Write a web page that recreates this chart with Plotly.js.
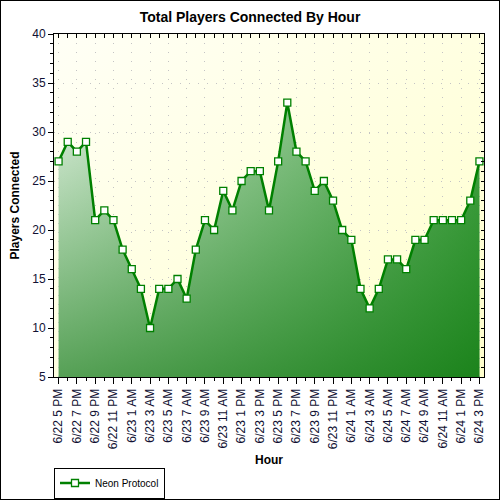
<!DOCTYPE html>
<html>
<head>
<meta charset="utf-8">
<script src="https://cdn.plot.ly/plotly-3.0.1.min.js"></script>
<style>
  html, body { margin: 0; padding: 0; background: #fff; }
  #wrap { position: relative; width: 500px; height: 500px; }
  #chart { width: 500px; height: 500px; }
  #frame { position: absolute; left: 0; top: 0; width: 498px; height: 498px; border: 1px solid #000; pointer-events: none; }
</style>
</head>
<body>
<div id="wrap"><div id="chart"></div><div id="frame"></div></div>
<script>
const hourLabels = ["6/22 5 PM","6/22 6 PM","6/22 7 PM","6/22 8 PM","6/22 9 PM","6/22 10 PM","6/22 11 PM",
  "6/23 12 AM","6/23 1 AM","6/23 2 AM","6/23 3 AM","6/23 4 AM","6/23 5 AM","6/23 6 AM","6/23 7 AM",
  "6/23 8 AM","6/23 9 AM","6/23 10 AM","6/23 11 AM","6/23 12 PM","6/23 1 PM","6/23 2 PM","6/23 3 PM",
  "6/23 4 PM","6/23 5 PM","6/23 6 PM","6/23 7 PM","6/23 8 PM","6/23 9 PM","6/23 10 PM","6/23 11 PM",
  "6/24 12 AM","6/24 1 AM","6/24 2 AM","6/24 3 AM","6/24 4 AM","6/24 5 AM","6/24 6 AM","6/24 7 AM",
  "6/24 8 AM","6/24 9 AM","6/24 10 AM","6/24 11 AM","6/24 12 PM","6/24 1 PM","6/24 2 PM","6/24 3 PM"];
const players = [27,29,28,29,21,22,21,
  18,16,14,10,14,14,15,13,
  18,21,20,24,22,25,26,26,
  22,27,33,28,27,24,25,23,
  20,19,14,12,14,17,17,16,
  19,19,21,21,21,21,23,27];
const seriesName = "Neon Protocol";
const chartTitle = "Total Players Connected By Hour";
const xTitle = "Hour";
const yTitle = "Players Connected";

const idx = hourLabels.map((_, i) => i);
const tickVals = idx.filter(i => i % 2 === 0);
const tickText = tickVals.map(i => hourLabels[i]);

const FONT = "Liberation Sans, Arial, sans-serif";
const GREEN = "#008000";

const bgSvg = '<svg xmlns="http://www.w3.org/2000/svg" width="100" height="100" preserveAspectRatio="none">' +
  '<defs><linearGradient id="g" x1="0" y1="0" x2="1" y2="1">' +
  '<stop offset="0" stop-color="#fffff6"/><stop offset="1" stop-color="#ffffcc"/>' +
  '</linearGradient></defs><rect width="100" height="100" fill="url(#g)"/></svg>';
const bgSrc = "data:image/svg+xml;charset=utf-8," + encodeURIComponent(bgSvg);

const traces = [
  {
    x: idx, y: players, type: "scatter", mode: "none", fill: "tozeroy",
    fillgradient: { type: "horizontal", start: -0.5, stop: 46.5,
      colorscale: [[0, "rgb(255,255,255)"], [1, "rgb(80,167,80)"]] },
    showlegend: false, hoverinfo: "skip"
  },
  {
    x: idx, y: players, type: "scatter", mode: "none", fill: "tozeroy",
    fillgradient: { type: "vertical", start: 5, stop: 40,
      colorscale: [[0, "rgba(0,112,0,0.66)"], [1, "rgba(0,128,0,0)"]] },
    showlegend: false, hoverinfo: "skip"
  },
  {
    x: idx, y: players, type: "scatter", mode: "lines+markers", name: seriesName,
    line: { color: GREEN, width: 2.5 },
    marker: { symbol: "square", size: 7, color: "#ffffff", line: { color: GREEN, width: 1.3 } },
    cliponaxis: false
  },
  { x: [], y: [], xaxis: "x2", yaxis: "y2", type: "scatter", showlegend: false, hoverinfo: "skip" }
];

const layout = {
  width: 500, height: 500,
  margin: { l: 54, r: 16, t: 34, b: 123 },
  paper_bgcolor: "#ffffff",
  plot_bgcolor: "rgba(0,0,0,0)",
  showlegend: true,
  font: { family: FONT, size: 12, color: "#000" },
  title: { text: chartTitle, font: { family: FONT, size: 14, weight: "bold", color: "#000" },
    x: 0.5, xref: "container", y: 0.966, yref: "container", yanchor: "middle" },
  images: [{ source: bgSrc, xref: "paper", yref: "paper", x: 0, y: 1, sizex: 1, sizey: 1,
    sizing: "stretch", layer: "below", xanchor: "left", yanchor: "top" }],
  xaxis: {
    range: [-0.5, 46.5], tickmode: "array", tickvals: tickVals, ticktext: tickText,
    tickangle: -90, ticks: "outside", ticklen: 6, tickcolor: "#000", tickwidth: 1,
    tickfont: { family: FONT, size: 12, color: "#111133" },
    showline: true, linecolor: "#000", linewidth: 1, zeroline: false,
    showgrid: true, gridcolor: "#c4c4c4", griddash: "1px,8px", gridwidth: 1,
    minor: { tickmode: "linear", tick0: 0, dtick: 1, ticks: "outside", ticklen: 3, tickcolor: "#000", showgrid: false },
    title: { text: xTitle, font: { family: FONT, size: 12, weight: "bold", color: "#000" }, standoff: 24 },
    automargin: false, fixedrange: true
  },
  yaxis: {
    range: [5, 40], tickmode: "linear", tick0: 0, dtick: 5,
    ticks: "outside", ticklen: 5, tickcolor: "#000",
    tickfont: { family: FONT, size: 12, color: "#111133" },
    showline: true, linecolor: "#000", linewidth: 1, zeroline: false,
    showgrid: true, gridcolor: "#c4c4c4", griddash: "1px,8px", gridwidth: 1,
    minor: { tickmode: "linear", tick0: 0, dtick: 1, ticks: "outside", ticklen: 3, tickcolor: "#000", showgrid: false },
    title: { text: yTitle, font: { family: FONT, size: 12, weight: "bold", color: "#000" }, standoff: 10 },
    automargin: false, fixedrange: true
  },
  xaxis2: {
    overlaying: "x", side: "top", anchor: "y2", range: [-0.5, 46.5],
    tickmode: "linear", tick0: 0, dtick: 1, ticks: "inside", ticklen: 4, tickcolor: "#000",
    showticklabels: false, showgrid: false, zeroline: false, showline: true, linecolor: "#000", fixedrange: true
  },
  yaxis2: {
    overlaying: "y", side: "right", anchor: "x2", range: [5, 40],
    tickmode: "linear", tick0: 0, dtick: 1, ticks: "inside", ticklen: 3, tickcolor: "#000",
    showticklabels: false, showgrid: false, zeroline: false, showline: true, linecolor: "#000", fixedrange: true
  },
  legend: {
    orientation: "h", x: 54 / 500, xref: "container", xanchor: "left",
    y: 0.034, yref: "container", yanchor: "middle",
    bgcolor: "#ffffff", bordercolor: "#000", borderwidth: 1,
    font: { family: FONT, size: 10, color: "#000" }, itemwidth: 30
  }
};

Plotly.newPlot("chart", traces, layout, { displayModeBar: false, staticPlot: true });
</script>
</body>
</html>
